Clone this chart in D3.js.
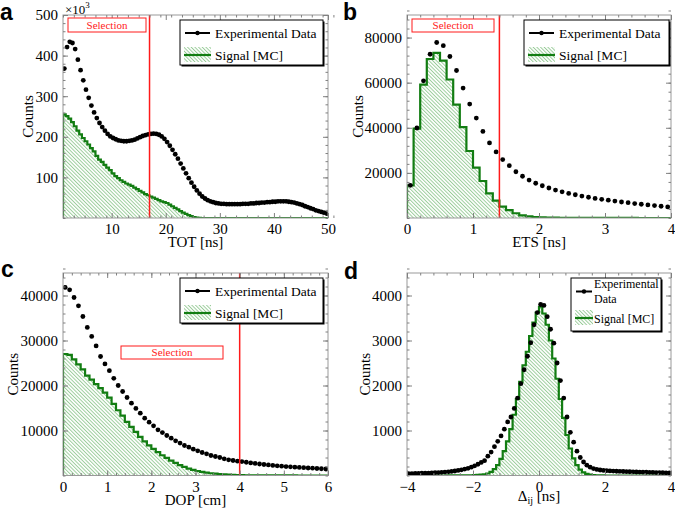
<!DOCTYPE html>
<html><head><meta charset="utf-8">
<script src="https://cdn.jsdelivr.net/npm/d3@7"></script>
<style>
body{margin:0;background:#fff}
text{font-family:"Liberation Serif","Times New Roman",serif}
</style>
</head><body><script>
// ---------------- DATA ----------------
// Panel a: TOT [ns], bins of 0.5 ns starting at 1 ns (values in units of 10^3)
const totBinStart = 1, totBinWidth = 0.5;
const totData = [368,421,434,431,416,390,364,339,316,296,277,260,246,234,224,215,207,201,197,194,
 191,190,189,189,190,191,193,196,199,202,204,206,207,208,207,205,201,195,187,178,
 168,157,146,134,122,110,98,87,77,68,60,53,48,44,41,39,37,36,35,35,
 34,34,34,34,34,34,35,35,35,36,36,37,37,38,38,39,39,40,40,41,
 41,41,41,40,39,38,36,34,32,29,27,24,22,19,17,15,13,11];
const totMC = [255,251,245,236,226,215,206,197,189,181,172,164,153,144,138,131,124,118,110,103,
 98,93,89,85,82,79,75,71,67,63,59,56,53,50,47,44,41,39,37,33,
 29,25,21,17,13,10,7,4.5,2.5,1.2,0.5];
const totXTicks = [10,20,30,40,50];
const totYTicks = [100,200,300,400,500];

// Panel b: ETS [ns], bins of 0.1 ns from 0
const etsBinStart = 0, etsBinWidth = 0.1;
const etsData = [14500,39900,60800,72600,77800,76400,71600,65400,57600,50500,
 44300,38400,33300,29300,25900,23200,20500,18500,16800,15400,
 14300,13300,12400,11600,10900,10300,9700,9200,8700,8300,
 7900,7500,7100,6800,6400,6100,5800,5500,5200,4900];
const etsMC = [14500,39600,59100,70500,73200,69800,61400,50300,40300,29700,
 22300,16400,10900,7700,5000,3500,2100,1200,700,450,
 300,200,150,100,80,60,50,40,30,25,20,18,16,14,12,11,10,10,10,10];
const etsXTicks = [0,1,2,3,4];
const etsYTicks = [20000,40000,60000,80000];

// Panel c: DOP [cm], bins of 0.1 cm from 0
const dopBinStart = 0, dopBinWidth = 0.1;
const dopData = [41800,41270,39560,37700,35330,32900,30900,28800,26450,24800,
 23300,21600,20000,18670,17330,16080,14900,13860,12750,11860,
 11040,10150,9550,8890,8300,7710,7200,6670,6300,5860,
 5490,5110,4820,4440,4220,4000,3710,3490,3330,3190,
 3100,2950,2800,2680,2560,2450,2340,2240,2150,2070,
 1990,1920,1850,1790,1730,1670,1620,1560,1500,1450];
const dopMC = [27000,26800,25800,24700,23600,22200,21300,20300,19400,18400,
 17300,15900,14500,13300,11900,10800,9700,8600,7600,6700,
 5900,5200,4500,3900,3300,2800,2300,1900,1550,1250,
 1000,800,640,500,400,310,240,180,140,100,
 80,60,50,40,30,25,20,15,12,10,8,7,6,5,4,3,3,2,2,2];
const dopXTicks = [0,1,2,3,4,5,6];
const dopYTicks = [10000,20000,30000,40000];

// Panel d: Delta_ij [ns], bins of 0.1 ns from -4
const dijBinStart = -4, dijBinWidth = 0.1;
const dijData = [40,42,45,47,50,52,55,58,62,66,70,76,82,90,100,112,126,142,160,185,
 215,250,290,330,430,520,640,760,880,1030,1190,1300,1490,1720,2040,2350,2650,2950,3350,3620,
 3800,3780,3530,3250,2940,2500,2110,1720,1300,960,740,540,400,300,230,185,155,135,122,113,
 107,102,98,95,92,89,86,83,80,78,76,74,72,70,68,66,64,62,60,58];
const dijMC = [0,0,0,0,0,0,0,0,0,0,0,0,1,1,1,2,2,3,4,5,
 8,12,18,28,45,80,140,230,370,540,760,1030,1350,1700,2080,2450,2750,3100,3400,3620,
 3750,3600,3350,3000,2600,2150,1700,1280,900,600,380,230,130,70,35,18,8,4,2,1];
const dijXTicks = [-4,-2,0,2,4];
const dijYTicks = [1000,2000,3000,4000];

const legendLabels = ["Experimental Data","Signal [MC]"];
const selectionLabel = "Selection";

// ---------------- DRAWING ----------------
const W = 675, H = 508;
const GREEN = "#127d12", RED = "#ff1a1a", FRAME = "#9a9a9a", TICK = "#808080";
const SERIF = '"Liberation Serif","Times New Roman",serif';
const svg = d3.select("body").append("svg").attr("width", W).attr("height", H);
const defs = svg.append("defs");
const pat = defs.append("pattern").attr("id","hatch").attr("patternUnits","userSpaceOnUse")
  .attr("width",2.6).attr("height",2.6).attr("patternTransform","rotate(-45)");
pat.append("line").attr("x1",0.5).attr("y1",0).attr("x2",0.5).attr("y2",2.6)
  .attr("stroke","#93c993").attr("stroke-width",0.9);

const panels = [
 {id:"a", letter:"a", lx:0, ly:20, box:[63,15,328,218], xd:[1,50], yd:[0,500],
  xMajor:totXTicks, xMinorStep:2, yMajor:totYTicks, yMinorStep:20,
  bin0:totBinStart, bw:totBinWidth, data:totData, mc:totMC, cut:17,
  xtitle:"TOT [ns]", ytx:33, sel:[68,18,78,14], leg:[180,20,143,45,13.5], exp10:true},
 {id:"b", letter:"b", lx:343, ly:20, box:[407,15,671,218], xd:[0,4], yd:[0,90000],
  xMajor:etsXTicks, xMinorStep:0.2, yMajor:etsYTicks, yMinorStep:4000,
  bin0:etsBinStart, bw:etsBinWidth, data:etsData, mc:etsMC, cut:1.4,
  xtitle:"ETS [ns]", ytx:363, sel:[412,19,82,13], leg:[524,20,145,45,13.5]},
 {id:"c", letter:"c", lx:1, ly:277, box:[63,273,328,475.5], xd:[0,6], yd:[0,45000],
  xMajor:dopXTicks, xMinorStep:0.2, yMajor:dopYTicks, yMinorStep:2000,
  bin0:dopBinStart, bw:dopBinWidth, data:dopData, mc:dopMC, cut:4,
  xtitle:"DOP [cm]", ytx:18, sel:[121,346,102,13], leg:[180,278,143,45,13.5]},
 {id:"d", letter:"d", lx:344, ly:279, box:[407,273,671,475.5], xd:[-4,4], yd:[0,4500],
  xMajor:dijXTicks, xMinorStep:0.4, yMajor:dijYTicks, yMinorStep:200,
  bin0:dijBinStart, bw:dijBinWidth, data:dijData, mc:dijMC, cut:null,
  xtitle:null, ytx:369.5, sel:null, leg:[571,278,90,53,12], twoLine:true}
];

function range(a, b, s) {
  const out = []; const n = Math.round((b - a) / s);
  for (let i = 0; i <= n; i++) out.push(+(a + i * s).toFixed(6));
  return out;
}

function styleAxis(g, fs) {
  g.attr("font-family", null).attr("font-size", null);
  g.select(".domain").remove();
  g.selectAll(".tick line").attr("stroke", TICK).attr("stroke-width", 1);
  g.selectAll(".tick text").attr("fill", "#000")
    .style("font-family", SERIF).style("font-size", fs + "px");
}

panels.forEach(p => {
  const [x0, y0, x1, y1] = p.box;
  const x = d3.scaleLinear().domain(p.xd).range([x0, x1]);
  const y = d3.scaleLinear().domain(p.yd).range([y1, y0]);

  defs.append("clipPath").attr("id", "clip" + p.id).append("rect")
    .attr("x", x0).attr("y", y0).attr("width", x1 - x0).attr("height", y1 - y0);
  const plot = svg.append("g").attr("clip-path", `url(#clip${p.id})`);

  // MC step histogram
  const pts = [[p.bin0, 0]];
  p.mc.forEach((v, i) => { const a = p.bin0 + i * p.bw; pts.push([a, v]); pts.push([a + p.bw, v]); });
  const lastX = p.bin0 + p.mc.length * p.bw;
  pts.push([lastX, 0]); pts.push([p.xd[1], 0]);
  const line = d3.line().x(d => x(d[0])).y(d => y(d[1]));
  plot.append("path").attr("d", line(pts) + "Z").attr("fill", "url(#hatch)");
  plot.append("path").attr("d", line(pts)).attr("fill", "none")
    .attr("stroke", GREEN).attr("stroke-width", 2.2).attr("stroke-linejoin", "miter");

  // Experimental data points
  plot.selectAll("circle.dat").data(p.data).join("circle").attr("class", "dat")
    .attr("cx", (d, i) => x(p.bin0 + (i + 0.5) * p.bw)).attr("cy", d => y(d))
    .attr("r", 2.4).attr("fill", "#000");

  // Selection cut line
  if (p.cut !== null) {
    svg.append("line").attr("x1", x(p.cut)).attr("x2", x(p.cut)).attr("y1", y0).attr("y2", y1)
      .attr("stroke", RED).attr("stroke-width", 1.5);
  }

  // Frame
  svg.append("rect").attr("x", x0).attr("y", y0).attr("width", x1 - x0).attr("height", y1 - y0)
    .attr("fill", "none").attr("stroke", FRAME).attr("stroke-width", 1);

  const xMinor = range(p.xd[0], p.xd[1], p.xMinorStep);
  const yMinor = range(p.yd[0], p.yd[1], p.yMinorStep);
  const fs = 15;
  // bottom
  svg.append("g").attr("transform", `translate(0,${y1})`)
    .call(d3.axisBottom(x).tickValues(xMinor).tickFormat("").tickSizeInner(-2.5).tickSizeOuter(0)).call(styleAxis, fs);
  svg.append("g").attr("transform", `translate(0,${y1})`)
    .call(d3.axisBottom(x).tickValues(p.xMajor).tickFormat(d3.format("d")).tickSizeInner(-5).tickSizeOuter(0).tickPadding(5.5)).call(styleAxis, fs);
  // top
  svg.append("g").attr("transform", `translate(0,${y0})`)
    .call(d3.axisTop(x).tickValues(xMinor).tickFormat("").tickSizeInner(-2.5).tickSizeOuter(0)).call(styleAxis, fs);
  svg.append("g").attr("transform", `translate(0,${y0})`)
    .call(d3.axisTop(x).tickValues(p.xMajor).tickFormat("").tickSizeInner(-5).tickSizeOuter(0)).call(styleAxis, fs);
  // left
  svg.append("g").attr("transform", `translate(${x0},0)`)
    .call(d3.axisLeft(y).tickValues(yMinor).tickFormat("").tickSizeInner(-2.5).tickSizeOuter(0)).call(styleAxis, fs);
  svg.append("g").attr("transform", `translate(${x0},0)`)
    .call(d3.axisLeft(y).tickValues(p.yMajor).tickFormat(d3.format("d")).tickSizeInner(-5).tickSizeOuter(0).tickPadding(5)).call(styleAxis, fs);
  // right
  svg.append("g").attr("transform", `translate(${x1},0)`)
    .call(d3.axisRight(y).tickValues(yMinor).tickFormat("").tickSizeInner(-2.5).tickSizeOuter(0)).call(styleAxis, fs);
  svg.append("g").attr("transform", `translate(${x1},0)`)
    .call(d3.axisRight(y).tickValues(p.yMajor).tickFormat("").tickSizeInner(-5).tickSizeOuter(0)).call(styleAxis, fs);

  // Axis titles
  svg.append("text").attr("transform", `translate(${p.ytx},${(y0 + y1) / 2}) rotate(-90)`)
    .attr("text-anchor", "middle").style("font-family", SERIF).style("font-size", "15px").text("Counts");
  const cx = (x0 + x1) / 2;
  if (p.xtitle) {
    svg.append("text").attr("x", cx).attr("y", y1 + 29).attr("text-anchor", "middle")
      .style("font-family", SERIF).style("font-size", "15px").text(p.xtitle);
  } else {
    const t = svg.append("text").attr("x", cx).attr("y", y1 + 25.5).attr("text-anchor", "middle")
      .style("font-family", SERIF).style("font-size", "15px");
    t.append("tspan").text("Δ");
    t.append("tspan").attr("dy", 3).style("font-size", "10px").text("ij");
    t.append("tspan").attr("dy", -3).text(" [ns]");
  }

  // Panel letter
  svg.append("text").attr("x", p.lx).attr("y", p.ly)
    .style("font-family", '"Liberation Sans",Arial,sans-serif').style("font-weight", "bold")
    .style("font-size", "23px").text(p.letter);

  // x10^3
  if (p.exp10) {
    const t = svg.append("text").attr("x", 65).attr("y", 13.5).style("font-family", SERIF).style("font-size", "13px");
    t.append("tspan").text("×10");
    t.append("tspan").attr("dy", -6).style("font-size", "9px").text("3");
  }

  // Selection box
  if (p.sel) {
    const [sx, sy, sw, sh] = p.sel;
    svg.append("rect").attr("x", sx).attr("y", sy).attr("width", sw).attr("height", sh)
      .attr("fill", "#fff").attr("stroke", RED).attr("stroke-width", 1);
    svg.append("text").attr("x", sx + sw / 2).attr("y", sy + sh / 2 + 3.8).attr("text-anchor", "middle")
      .attr("fill", RED).style("font-family", SERIF).style("font-size", "11px").text(selectionLabel);
  }

  // Legend
  const [lx, ly, lw, lh, lfs] = p.leg;
  svg.append("rect").attr("x", lx + 1.5).attr("y", ly + 1.5).attr("width", lw).attr("height", lh).attr("fill", "#000");
  svg.append("rect").attr("x", lx).attr("y", ly).attr("width", lw).attr("height", lh)
    .attr("fill", "#fff").attr("stroke", "#000").attr("stroke-width", 1);
  const mx0 = lx + 5, mx1 = lx + (p.twoLine ? 21 : 30), tx = lx + (p.twoLine ? 23 : 35);
  const e1y = p.twoLine ? ly + 13.5 : ly + 13;
  const e2y = p.twoLine ? ly + 40 : ly + 35;
  svg.append("line").attr("x1", mx0).attr("x2", mx1).attr("y1", e1y).attr("y2", e1y)
    .attr("stroke", "#000").attr("stroke-width", 2);
  svg.append("circle").attr("cx", (mx0 + mx1) / 2).attr("cy", e1y).attr("r", 2.2).attr("fill", "#000");
  if (p.twoLine) {
    const parts = legendLabels[0].split(" ");
    svg.append("text").attr("x", tx).attr("y", ly + 9.5).style("font-family", SERIF).style("font-size", lfs + "px").text(parts[0]);
    svg.append("text").attr("x", tx).attr("y", ly + 24.5).style("font-family", SERIF).style("font-size", lfs + "px").text(parts[1]);
  } else {
    svg.append("text").attr("x", tx).attr("y", e1y + 4.5).style("font-family", SERIF).style("font-size", lfs + "px").text(legendLabels[0]);
  }
  svg.append("rect").attr("x", mx0 - 1).attr("y", e2y - 8).attr("width", mx1 - mx0 + 2).attr("height", 15)
    .attr("fill", "url(#hatch)");
  svg.append("line").attr("x1", mx0 - 1).attr("x2", mx1 + 1).attr("y1", e2y).attr("y2", e2y)
    .attr("stroke", GREEN).attr("stroke-width", 2.2);
  svg.append("text").attr("x", tx).attr("y", e2y + 4.5).style("font-family", SERIF).style("font-size", lfs + "px").text(legendLabels[1]);
});
</script></body></html>
